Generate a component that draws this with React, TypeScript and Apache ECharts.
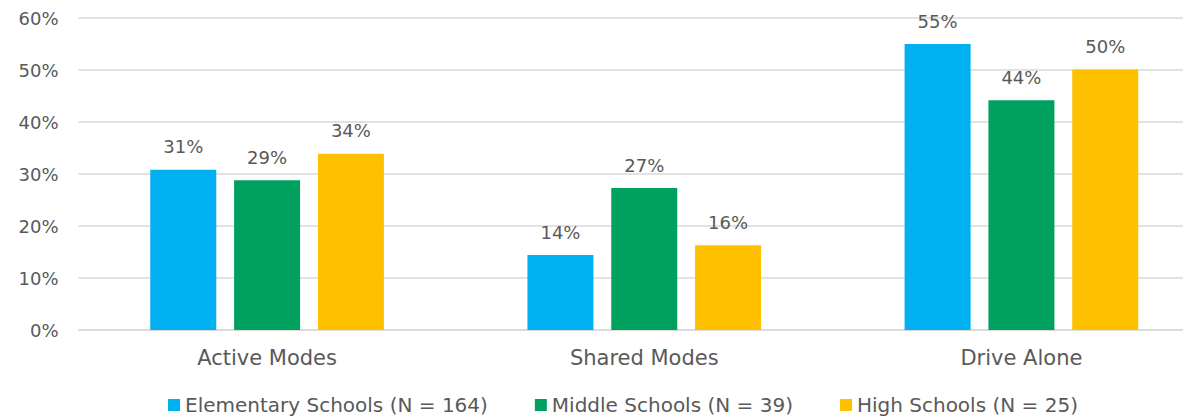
import React, { useEffect, useRef } from "react";
import * as echarts from "echarts";

const categories = ["Active Modes", "Shared Modes", "Drive Alone"];
const seriesNames = [
  "Elementary Schools (N = 164)",
  "Middle Schools (N = 39)",
  "High Schools (N = 25)",
];
const elementary = [30.8, 14.4, 55.0];
const middle = [28.8, 27.3, 44.2];
const high = [33.9, 16.3, 50.1];
const colors = ["#00B0F0", "#00A05F", "#FFC000"];
const yTicks = [0, 10, 20, 30, 40, 50, 60];

const FONT = "DejaVu Sans";
const TEXT = "#595959";

export default function App() {
  const ref = useRef<HTMLDivElement>(null);
  useEffect(() => {
    document.body.style.margin = "0";
    const chart = echarts.init(ref.current!, null, { renderer: "svg" });
    const data = [elementary, middle, high];
    chart.setOption({
      animation: false,
      textStyle: { fontFamily: FONT, color: TEXT },
      grid: { left: 78.5, right: 0, top: 18, bottom: 89, containLabel: false },
      legend: {
        left: 168,
        top: 395,
        padding: 0,
        itemWidth: 12,
        itemHeight: 12,
        itemGap: 47,
        icon: "rect",
        textStyle: { fontFamily: FONT, fontSize: 20, lineHeight: 20, color: TEXT },
        data: seriesNames,
      },
      xAxis: {
        type: "category",
        data: categories,
        axisLine: { lineStyle: { color: "#D9D9D9", width: 1.5 } },
        axisTick: { show: false },
        axisLabel: { fontFamily: FONT, fontSize: 21, color: TEXT, margin: 17 },
      },
      yAxis: {
        type: "value",
        min: yTicks[0],
        max: yTicks[yTicks.length - 1],
        interval: 10,
        axisLine: { show: false },
        axisTick: { show: false },
        splitLine: { lineStyle: { color: "#D9D9D9", width: 1.5 } },
        axisLabel: {
          fontFamily: FONT,
          fontSize: 18,
          color: TEXT,
          margin: 20,
          formatter: (v: number) => v + "%",
        },
      },
      series: seriesNames.map((name, i) => ({
        name,
        type: "bar",
        data: data[i],
        barWidth: 66,
        barGap: "27%",
        itemStyle: { color: colors[i] },
        label: {
          show: true,
          position: "top",
          distance: 14,
          fontFamily: FONT,
          fontSize: 18,
          color: TEXT,
          formatter: (p: any) => Math.round(p.value) + "%",
        },
      })),
    });
    return () => chart.dispose();
  }, []);
  return (
    <div style={{ width: 1183, height: 419, overflow: "hidden" }}>
      <div ref={ref} style={{ width: 1209.5, height: 419 }} />
    </div>
  );
}
